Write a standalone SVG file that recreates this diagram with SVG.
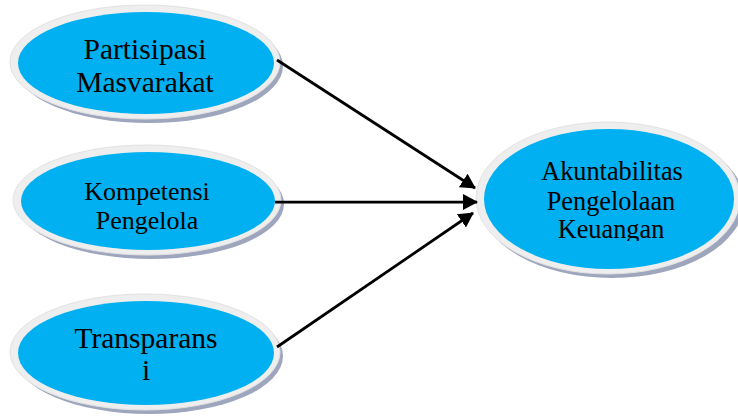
<svg xmlns="http://www.w3.org/2000/svg" width="738" height="416" viewBox="0 0 738 416">
<style>
.shadow{fill:#9ea6bd}
.rim{fill:#eeeeee;stroke:#e2e2e2;stroke-width:1}
.core{fill:#00b0f0}
.t{font-family:"Liberation Serif","Times New Roman",serif;fill:#000;text-anchor:middle}
.c{stroke:#000;stroke-width:2.75;fill:none;marker-end:url(#ah)}
</style>
<defs>
<marker id="ah" viewBox="0 0 15 16" refX="14" refY="8" markerWidth="15" markerHeight="16" markerUnits="userSpaceOnUse" orient="auto">
<path d="M0,0 L15,8 L0,16 Z" fill="#000"/>
</marker>
<clipPath id="kclip"><rect x="480" y="120" width="258" height="121"/></clipPath>
</defs>
<g id="n1">
<ellipse class="shadow" cx="149" cy="66" rx="134" ry="57"/>
<ellipse class="rim" cx="145" cy="62" rx="135" ry="57"/>
<ellipse class="core" cx="146" cy="63" rx="128" ry="51"/>
<text class="t" x="145" y="59" font-size="29.5">Partisipasi</text>
<text class="t" x="145" y="91.5" font-size="29.5">Masvarakat</text>
</g>
<g id="n2">
<ellipse class="shadow" cx="151" cy="204" rx="133" ry="55"/>
<ellipse class="rim" cx="147" cy="200" rx="134" ry="55"/>
<ellipse class="core" cx="148" cy="201" rx="127" ry="49"/>
<text class="t" x="147" y="200" font-size="26">Kompetensi</text>
<text class="t" x="147" y="229" font-size="26">Pengelola</text>
</g>
<g id="n3">
<ellipse class="shadow" cx="149" cy="356" rx="134" ry="58"/>
<ellipse class="rim" cx="145" cy="352" rx="135" ry="58"/>
<ellipse class="core" cx="146" cy="353" rx="128" ry="52"/>
<text class="t" x="146" y="348" font-size="29.5">Transparans</text>
<text class="t" x="146" y="380" font-size="29.5">i</text>
</g>
<g id="n4">
<ellipse class="shadow" cx="612" cy="202" rx="132" ry="76"/>
<ellipse class="rim" cx="608" cy="198" rx="132" ry="76"/>
<ellipse class="core" cx="609" cy="199" rx="125" ry="70"/>
<text class="t" x="612" y="180" font-size="26.3">Akuntabilitas</text>
<text class="t" x="611" y="210" font-size="26.3">Pengelolaan</text>
<text class="t" x="611" y="238" font-size="26.3" clip-path="url(#kclip)">Keuangan</text>
</g>
<g id="connectors">
<line class="c" x1="277" y1="60" x2="475" y2="188"/>
<line class="c" x1="275" y1="202" x2="477" y2="202"/>
<line class="c" x1="277" y1="347" x2="473" y2="213"/>
</g>
</svg>
